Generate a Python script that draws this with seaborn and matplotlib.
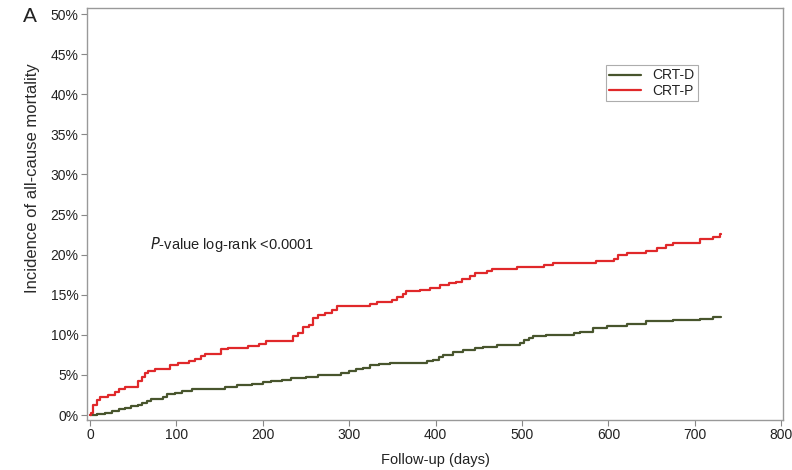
import numpy as np
import pandas as pd
import matplotlib
matplotlib.use("Agg")
import matplotlib.pyplot as plt
import seaborn as sns

# CRT-P (red) step knots: follow-up days and cumulative incidence (%)
crtp_days = [0, 1, 4, 8, 12, 21, 29, 33, 40, 56, 60, 64, 67, 75, 92, 102, 114, 121, 129, 133,
             152, 160, 183, 195, 204, 235, 241, 247, 253, 258, 264, 272, 280, 286, 324, 332,
             349, 355, 362, 366, 382, 393, 405, 415, 424, 430, 440, 446, 459, 465, 494, 510,
             525, 536, 586, 606, 611, 621, 644, 656, 667, 675, 706, 721, 729, 730]
crtp_inc = [0.0, 0.2, 1.2, 1.9, 2.3, 2.5, 2.9, 3.2, 3.5, 4.2, 4.8, 5.2, 5.5, 5.7, 6.2, 6.5,
            6.7, 7.0, 7.3, 7.6, 8.2, 8.4, 8.6, 8.9, 9.25, 9.8, 10.2, 11.0, 11.2, 12.1, 12.5,
            12.7, 13.1, 13.6, 13.9, 14.1, 14.3, 14.75, 15.1, 15.5, 15.6, 15.8, 16.2, 16.4,
            16.6, 17.0, 17.3, 17.7, 18.0, 18.2, 18.4, 18.5, 18.7, 19.0, 19.2, 19.5, 19.95,
            20.2, 20.5, 20.8, 21.2, 21.5, 21.9, 22.2, 22.6, 22.6]

# CRT-D (dark olive) step knots
crtd_days = [0, 8, 17, 25, 33, 40, 48, 55, 60, 66, 71, 85, 89, 98, 106, 118, 129, 156, 170,
             187, 200, 210, 222, 233, 250, 264, 290, 300, 308, 316, 324, 335, 347, 390, 397,
             404, 409, 420, 432, 445, 455, 471, 498, 502, 508, 513, 528, 560, 567, 582, 598,
             621, 644, 675, 706, 721, 729, 730]
crtd_inc = [0.0, 0.1, 0.3, 0.5, 0.7, 0.9, 1.1, 1.3, 1.5, 1.8, 2.0, 2.2, 2.6, 2.8, 3.0, 3.2,
            3.3, 3.5, 3.7, 3.9, 4.1, 4.2, 4.4, 4.6, 4.8, 5.0, 5.2, 5.5, 5.7, 5.9, 6.2, 6.3,
            6.5, 6.7, 6.9, 7.2, 7.5, 7.8, 8.1, 8.3, 8.5, 8.7, 9.0, 9.3, 9.6, 9.8, 10.0, 10.2,
            10.4, 10.8, 11.1, 11.4, 11.7, 11.85, 12.0, 12.2, 12.25, 12.25]

groups = ["CRT-D", "CRT-P"]
x_ticks = [0, 100, 200, 300, 400, 500, 600, 700, 800]
y_ticks = [0, 5, 10, 15, 20, 25, 30, 35, 40, 45, 50]

df = pd.concat([
    pd.DataFrame({"day": crtd_days, "inc": crtd_inc, "group": groups[0]}),
    pd.DataFrame({"day": crtp_days, "inc": crtp_inc, "group": groups[1]}),
], ignore_index=True)

sns.set_theme(style="white")
plt.rcParams["font.family"] = ["Liberation Sans", "DejaVu Sans"]

fig = plt.figure(figsize=(7.92, 4.70), dpi=100)
ax = fig.add_axes([87 / 792, 1 - 420 / 470, (783 - 87) / 792, (420 - 8) / 470])

palette = {"CRT-D": "#48552d", "CRT-P": "#e0282a"}
sns.lineplot(data=df, x="day", y="inc", hue="group", palette=palette, hue_order=groups,
             drawstyle="steps-post", linewidth=1.6, ax=ax, estimator=None, sort=False)

ax.set_xlim(-3.5, 802)
ax.set_ylim(-0.62, 50.75)
ax.set_xticks(x_ticks)
ax.set_yticks(y_ticks)
ax.set_yticklabels([f"{v}%" for v in y_ticks])
ax.tick_params(axis="both", which="both", direction="out", length=4, width=0.8,
               color="#888888", labelsize=10, labelcolor="#222222", pad=2,
               bottom=True, left=True)
for s in ax.spines.values():
    s.set_color("#999999")
    s.set_linewidth(1.0)

ax.set_xlabel("Follow-up (days)", fontsize=10.5, color="#222222", labelpad=8)
ax.set_ylabel("Incidence of all-cause mortality", fontsize=12, color="#2a2a2a")
ax.yaxis.set_label_coords((40 - 87) / 696, (420 - 178) / 412)

leg = ax.legend(loc="upper left", bbox_to_anchor=((606 - 87) / 696, 1 - (65 - 8) / 412),
                borderaxespad=0, frameon=True, fancybox=False, fontsize=10,
                handlelength=2.3, handletextpad=0.8, borderpad=0.25, labelspacing=0.1,
                edgecolor="#999999")
leg.get_frame().set_linewidth(0.8)
for t in leg.get_texts():
    t.set_color("#222222")

ax.text(69, 21.2, r"$\it{P}$-value log-rank <0.0001", fontsize=10.5, color="#222222",
        va="center", ha="left")
fig.text(30 / 792, 1 - 17 / 470, "A", fontsize=15, color="#222222", ha="center", va="center")

fig.savefig("out.png", dpi=100)
